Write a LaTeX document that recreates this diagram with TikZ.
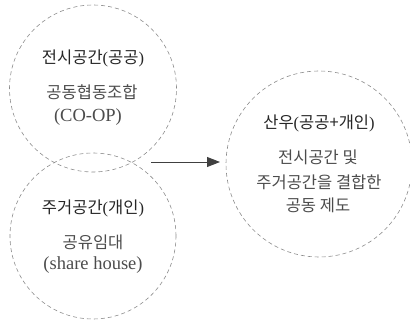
\documentclass[tikz,border=0pt]{standalone}
\usepackage{fontspec}
\setmainfont{Liberation Serif}
\newfontfamily\ko{Noto Sans CJK KR}
\usetikzlibrary{arrows.meta}
\begin{document}
\begin{tikzpicture}[x=1pt,y=-1pt,
  circ/.style={draw=black!45, dash pattern=on 4pt off 3pt, line width=0.6pt, circle, inner sep=0pt},
  ttl/.style={font=\ko\fontsize{16.5}{18}\selectfont, text=black!85, inner sep=0pt},
  body/.style={font=\ko\fontsize{16.5}{18}\selectfont, text=black!70, inner sep=0pt},
  lat/.style={font=\fontsize{18.5}{20}\selectfont, text=black!70, inner sep=0pt},
  arr/.style={draw=black!75, line width=0.9pt, -{Triangle[length=13pt,width=10pt]}}]
\useasboundingbox (0,0) rectangle (410,320);
% circles
\node[circ, minimum size=167pt] (pub) at (93,88.5) {};
\node[circ, minimum size=166pt] (priv) at (93,236) {};
\node[circ, minimum size=186pt] (sanu) at (319,164) {};
% top circle text
\node[ttl] (t1) at (93,58) {전시공간\fontspec{Liberation Serif}(\ko 공공\fontspec{Liberation Serif})};
\node[body] (t2) at (92,92) {공동협동조합};
\node[lat] (t3) at (88,117) {(CO-OP)};
% bottom circle text
\node[ttl] (b1) at (93,208) {주거공간\fontspec{Liberation Serif}(\ko 개인\fontspec{Liberation Serif})};
\node[body] (b2) at (93,242) {공유임대};
\node[lat] (b3) at (93,265) {(share house)};
% right circle text
\node[ttl] (r1) at (319,123) {산우\fontspec{Liberation Serif}(\ko 공공+개인\fontspec{Liberation Serif})};
\node[body] (r2) at (318,157) {전시공간 및};
\node[body] (r3) at (319,182) {주거공간을 결합한};
\node[body] (r4) at (318,205) {공동 제도};
% arrow
\coordinate (a1) at (151,162);
\coordinate (a2) at (220,162);
\draw[arr] (a1) -- (a2);
\end{tikzpicture}
\end{document}
